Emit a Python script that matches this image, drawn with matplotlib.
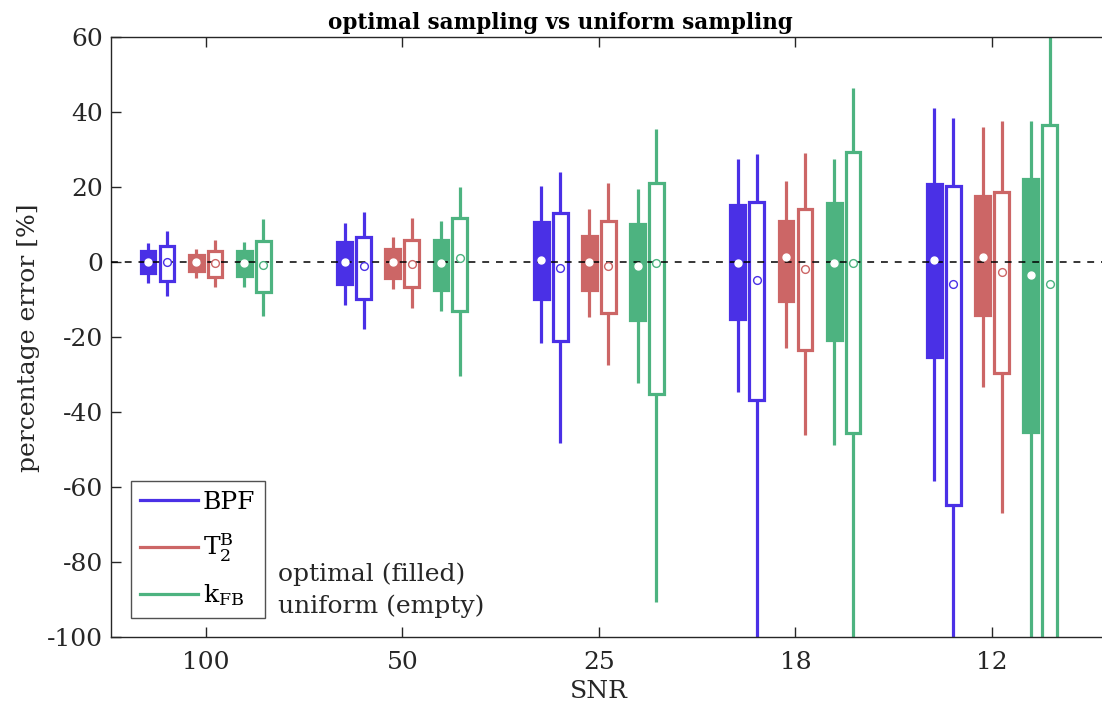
import matplotlib
matplotlib.use("Agg")
import matplotlib.pyplot as plt
from matplotlib.lines import Line2D
from matplotlib.transforms import blended_transform_factory
import numpy as np

plt.rcParams['font.family'] = ['DejaVu Serif']
plt.rcParams['mathtext.fontset'] = 'dejavuserif'
plt.rcParams['mathtext.default'] = 'regular'
plt.rcParams['axes.unicode_minus'] = False

# ---- data ----
snr_labels = ["100", "50", "25", "18", "12"]
params = ["BPF", "T$_2^B$", "k$_{FB}$"]
colors = ["#4A30E6", "#CC6666", "#4DB380"]

# optimal (filled)
bpf_opt_hi = [5.2, 10.5, 20.3, 27.5, 41.1]
bpf_opt_q3 = [2.9, 5.5, 10.8, 15.3, 20.8]
bpf_opt_med = [0.0, 0.0, 0.5, -0.3, 0.7]
bpf_opt_q1 = [-2.8, -5.9, -9.9, -15.1, -25.2]
bpf_opt_lo = [-5.5, -11.3, -21.5, -34.6, -58.3]

t2_opt_hi = [3.6, 6.7, 14.1, 21.6, 36.0]
t2_opt_q3 = [1.9, 3.5, 7.1, 10.9, 17.6]
t2_opt_med = [0.0, 0.0, 0.0, 1.3, 1.4]
t2_opt_q1 = [-2.2, -4.1, -7.5, -10.2, -14.0]
t2_opt_lo = [-4.1, -7.0, -14.7, -22.8, -33.2]

kfb_opt_hi = [5.4, 10.9, 19.6, 27.6, 37.8]
kfb_opt_q3 = [2.9, 5.9, 10.1, 15.9, 22.1]
kfb_opt_med = [-0.3, -0.2, -0.9, -0.2, -3.4]
kfb_opt_q1 = [-3.7, -7.3, -15.5, -20.6, -45.3]
kfb_opt_lo = [-6.7, -13.1, -32.1, -48.6, -110.0]

# uniform (empty)
bpf_uni_hi = [8.3, 13.5, 24.0, 28.9, 38.5]
bpf_uni_q3 = [4.3, 6.7, 13.2, 16.1, 20.4]
bpf_uni_med = [0.2, -0.9, -1.6, -4.6, -5.8]
bpf_uni_q1 = [-5.1, -9.8, -21.0, -36.8, -64.6]
bpf_uni_lo = [-9.1, -17.9, -48.2, -105.0, -110.0]

t2_uni_hi = [6.0, 11.7, 21.1, 29.1, 37.7]
t2_uni_q3 = [3.1, 5.9, 10.9, 14.1, 18.8]
t2_uni_med = [-0.2, -0.4, -1.1, -1.9, -2.6]
t2_uni_q1 = [-3.9, -6.6, -13.4, -23.4, -29.5]
t2_uni_lo = [-6.7, -12.1, -27.5, -46.0, -66.9]

kfb_uni_hi = [11.5, 20.1, 35.6, 46.6, 65.0]
kfb_uni_q3 = [5.8, 11.9, 21.1, 29.3, 36.5]
kfb_uni_med = [-0.8, 1.1, -0.3, -0.1, -5.8]
kfb_uni_q1 = [-7.8, -13.1, -35.0, -45.5, -105.0]
kfb_uni_lo = [-14.2, -30.4, -90.5, -110.0, -120.0]

opt_series = [
    (bpf_opt_lo, bpf_opt_q1, bpf_opt_med, bpf_opt_q3, bpf_opt_hi),
    (t2_opt_lo, t2_opt_q1, t2_opt_med, t2_opt_q3, t2_opt_hi),
    (kfb_opt_lo, kfb_opt_q1, kfb_opt_med, kfb_opt_q3, kfb_opt_hi),
]
uni_series = [
    (bpf_uni_lo, bpf_uni_q1, bpf_uni_med, bpf_uni_q3, bpf_uni_hi),
    (t2_uni_lo, t2_uni_q1, t2_uni_med, t2_uni_q3, t2_uni_hi),
    (kfb_uni_lo, kfb_uni_q1, kfb_uni_med, kfb_uni_q3, kfb_uni_hi),
]

# ---- layout ----
W, H = 1102, 711
FS = 18
fig = plt.figure(figsize=(W / 100, H / 100), dpi=100)
x0, x1 = 0.52, 5.70
unit_px = 196.6
ax_left = 111.3 / W
ax_bottom = 1 - 637.3 / H
ax_height = (637.3 - 37.3) / H
ax_width = (x1 - x0) * unit_px / W
ax = fig.add_axes([ax_left, ax_bottom, ax_width, ax_height])

group_x = np.arange(1, len(snr_labels) + 1)
param_offsets = [-0.245, 0.0, 0.245]
pair_offset = 0.048
box_w = 0.075
lw = 2.3

def make_stats(lo, q1, med, q3, hi):
    return [dict(whislo=a, q1=b, med=c, q3=d, whishi=e, fliers=[])
            for a, b, c, d, e in zip(lo, q1, med, q3, hi)]

for i, col in enumerate(colors):
    for kind, series in (("opt", opt_series[i]), ("uni", uni_series[i])):
        sgn = -1 if kind == "opt" else 1
        pos = group_x + param_offsets[i] + sgn * pair_offset
        stats = make_stats(*series)
        face = col if kind == "opt" else "white"
        ax.bxp(stats, positions=pos, widths=box_w, patch_artist=True,
               showcaps=False, showfliers=False,
               boxprops=dict(facecolor=face, edgecolor=col, linewidth=lw),
               whiskerprops=dict(color=col, linewidth=lw, solid_capstyle='butt'),
               medianprops=dict(linestyle='none'),
               manage_ticks=False, zorder=2)
        med = series[2]
        if kind == "opt":
            ax.plot(pos, med, linestyle='none', marker='o', markersize=5.0,
                    markerfacecolor='white', markeredgecolor='white', zorder=5)
        else:
            ax.plot(pos, med, linestyle='none', marker='o', markersize=5.6,
                    markerfacecolor='white', markeredgecolor=col,
                    markeredgewidth=1.0, zorder=5)

ax.axhline(0, color='black', linestyle=(0, (4.5, 4.5)), linewidth=1.1, zorder=4)

ax.set_xlim(x0, x1)
ax.set_ylim(-100, 60)
ax.set_yticks(np.arange(-100, 61, 20))
ax.set_xticks(group_x)
ax.set_xticklabels(snr_labels)
ax.tick_params(direction='in', top=True, right=False, length=7.5, width=1.0,
               labelsize=FS, colors='#262626')
ax.tick_params(axis='x', pad=10)
ax.tick_params(axis='y', pad=6)
ax.spines['right'].set_visible(False)
for s in ax.spines.values():
    s.set_color('#262626')
    s.set_linewidth(1.0)

fig.text(560 / W, 1 - 29 / H, "optimal sampling vs uniform sampling",
         fontsize=15.5, fontweight='bold', ha='center', va='baseline', color='black')
ax.set_ylabel("percentage error [%]", fontsize=FS, color='#262626', labelpad=5)
ax.set_xlabel("SNR", fontsize=FS, color='#262626')
trans = blended_transform_factory(ax.transData, ax.transAxes)
ax.xaxis.set_label_coords(3.0, -0.072, transform=trans)

handles = [Line2D([0], [0], color=c, linewidth=lw) for c in colors]
leg = ax.legend(handles, params, loc='lower left',
                bbox_to_anchor=((130.7 - 111.3) / (ax_width * W), (637.3 - 617.7) / (ax_height * H)),
                borderaxespad=0, fontsize=FS, frameon=True, fancybox=False,
                edgecolor='#262626', handlelength=2.3, handletextpad=0.2,
                labelspacing=0.72, borderpad=0.38)
leg.get_frame().set_linewidth(1.0)
leg.set_zorder(10)

fig.text(278 / W, 1 - 581.5 / H, "optimal (filled)",
         fontsize=FS, color='#262626', va='baseline', ha='left')
fig.text(278 / W, 1 - 612.5 / H, "uniform (empty)",
         fontsize=FS, color='#262626', va='baseline', ha='left')

fig.savefig("out.png", dpi=100)
